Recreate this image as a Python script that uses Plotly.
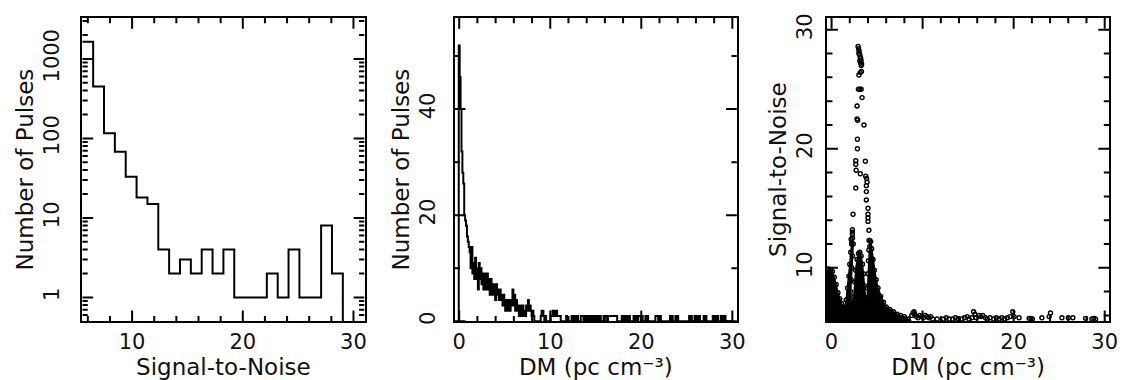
import numpy as np
import plotly.graph_objects as go

# ---------------- data ----------------
# Panel 1: histogram of Signal-to-Noise (bins from threshold to max S/N)
snr_lo = 5.5
snr_hi = 31.0
snr_counts = [1640, 450, 116, 68, 33, 18, 15, 4, 2, 3, 2, 4, 2, 4,
              1, 1, 1, 2, 1, 4, 1, 1, 8, 2, 0, 0]

# Panel 2: number of pulses per DM trial (0.1 pc cm^-3 steps)
dm_step = 0.1
dm_max = 30.0
dm_range = [-0.5, 30.5]
# DM 0.0 ... 8.3
dm_counts_low = [52, 46, 40, 32, 28, 26, 20, 19, 18, 16,
                 15, 14, 13, 10, 14, 9, 11, 8, 12, 8,
                 10, 6, 11, 8, 10, 7, 9, 6, 9, 7,
                 6, 9, 6, 8, 5, 8, 5, 7, 5, 7,
                 4, 7, 5, 6, 4, 6, 4, 5, 3, 5,
                 3, 2, 4, 2, 3, 4, 2, 3, 4, 6,
                 3, 5, 2, 4, 2, 3, 1, 3, 1, 2,
                 3, 1, 2, 1, 3, 2, 4, 2, 3, 2,
                 1, 2, 1, 0]
# sparse trials above DM 8.3
dm_sparse_dm = [9.0, 9.1, 9.2, 9.3, 9.5, 10.1, 10.2, 10.3, 10.4, 10.5, 10.6, 10.7,
                10.8, 10.9, 11.0, 11.1, 11.8, 12.4, 12.5, 12.7, 12.8, 13.0, 13.4,
                13.5, 13.6, 13.8, 13.9, 14.1, 14.4, 14.5, 14.7, 14.8, 15.0, 15.1,
                15.3, 15.5, 15.9, 16.0, 16.1, 16.2, 16.4, 16.5, 16.6, 16.7, 16.8,
                16.9, 17.0, 17.1, 17.2, 17.3, 17.9, 18.0, 18.1, 18.3, 18.6, 18.7,
                19.2, 19.3, 19.5, 19.7, 19.8, 19.9, 20.1, 20.5, 20.7, 21.6, 21.7,
                21.8, 22.0, 22.1, 23.2, 23.4, 23.8, 24.0, 25.3, 25.5, 25.9, 26.1,
                26.4, 26.9, 27.1, 27.9, 28.0, 28.2, 28.4, 28.8, 28.9, 29.1, 29.2]
dm_sparse_n = [1, 2, 2, 1, 1, 1, 1, 2, 2, 1, 1, 2,
               1, 1, 1, 1, 1, 1, 1, 1, 1, 1, 1,
               1, 1, 1, 1, 1, 1, 1, 1, 1, 1, 1,
               1, 1, 1, 1, 1, 1, 1, 1, 1, 1, 1,
               1, 1, 1, 1, 1, 1, 1, 1, 1, 1, 1,
               1, 1, 1, 1, 1, 1, 1, 1, 1, 1, 1,
               1, 1, 1, 1, 1, 1, 1, 1, 1, 1, 1,
               1, 1, 1, 1, 1, 1, 1, 1, 1, 1, 1]

# Panel 3: S/N vs DM of individual pulses
peak_dm = [2.91, 2.97, 3.03, 3.0, 3.1, 3.15, 3.2, 3.1, 3.25, 3.2, 3.3, 3.25,
           3.0, 3.15, 3.28, 2.95, 3.1, 3.25, 3.35, 2.8, 2.8, 2.86, 3.56,
           2.84, 2.84, 2.66, 2.66, 2.7, 3.71, 3.16, 3.75, 3.85, 3.9, 2.66,
           3.82, 3.82, 3.82, 4.0, 4.0, 4.0, 4.0, 2.36, 2.29, 2.29, 2.29, 4.1,
           2.15, 2.2, 4.12, 4.2]
peak_snr = [28.6, 28.4, 28.2, 28.0, 27.9, 27.7, 27.6, 27.4, 27.4, 27.2, 27.1, 27.0,
            26.2, 26.4, 26.5, 25.0, 25.0, 25.0, 24.3, 23.6, 22.5, 22.4, 22.0,
            20.8, 20.0, 19.0, 18.7, 18.2, 18.95, 17.9, 17.7, 17.5, 17.2, 16.7,
            16.9, 16.4, 15.7, 15.0, 14.5, 14.2, 13.9, 14.5, 13.2, 13.0, 12.8, 13.15,
            12.4, 12.0, 12.3, 11.8]
# outline of the densely populated region near the detection threshold
env_dm = [-0.5, -0.5, -0.35, -0.1, 0.1, 0.3, 0.5, 0.7, 0.9, 1.1, 1.3, 1.45,
          1.6, 1.75, 1.9, 2.0, 2.1, 2.2, 2.3, 2.38, 2.3, 2.22, 2.15, 2.1, 2.15, 2.3,
          2.45, 2.55, 2.65, 2.8, 2.95, 3.1, 3.25, 3.4, 3.5, 3.6, 3.7, 3.8,
          3.9, 3.95, 4.0, 4.05, 4.1, 4.2, 4.3, 4.4, 4.55, 4.7, 4.9, 5.1, 5.4,
          5.7, 6.0, 6.4, 6.8, 7.2, 7.6, 8.0, 8.4, 8.5]
env_snr = [5.5, 9.6, 9.9, 9.85, 9.7, 9.2, 8.6, 7.9, 7.4, 7.0, 6.7, 6.6,
           7.3, 8.3, 9.3, 10.3, 11.3, 12.1, 12.5, 12.0, 11.0, 10.0, 9.0, 8.0, 7.2, 6.9,
           7.6, 8.8, 9.8, 10.7, 11.2, 11.3, 11.0, 10.3, 9.5, 8.5, 7.5, 6.9,
           7.3, 8.3, 9.5, 10.6, 11.5, 12.3, 12.2, 11.6, 10.7, 9.8, 9.0, 8.3, 7.6,
           7.1, 6.7, 6.5, 6.3, 6.1, 6.0, 5.9, 5.7, 5.5]
# sparse weak pulses at higher DMs
tail_dm = [8.8, 8.95, 9.05, 9.15, 9.3, 9.5, 9.7, 9.9, 10.1, 10.3, 10.5, 10.7, 10.9,
           11.1, 11.6, 12.3, 12.6, 12.9, 13.3, 13.6, 13.9, 14.3, 14.6, 14.9, 15.1,
           15.4, 15.6, 15.75, 15.9, 16.2, 16.4, 16.6, 16.9, 17.1, 17.4, 17.8, 18.1,
           18.4, 18.7, 19.0, 19.3, 19.6, 19.9, 20.05, 20.6, 21.7, 21.9, 22.05, 23.1,
           23.9, 24.05, 25.3, 26.0, 26.5, 27.9, 28.6, 28.8, 29.0]
tail_snr = [6.0, 6.2, 6.3, 6.1, 5.9, 5.8, 6.0, 5.9, 5.8, 6.0, 5.9, 5.8, 5.9,
            5.7, 5.7, 5.7, 5.8, 5.7, 5.7, 5.8, 5.7, 5.7, 5.8, 5.9, 5.7,
            5.8, 6.3, 6.1, 5.8, 6.0, 5.9, 6.0, 5.8, 5.7, 5.8, 5.7, 5.8,
            5.7, 5.8, 5.7, 5.8, 5.9, 6.3, 5.9, 5.8, 5.75, 5.75, 5.7, 5.8,
            5.9, 6.2, 5.8, 5.8, 5.8, 5.75, 5.7, 5.75, 5.7]

# ---------------- tick values (major / minor) ----------------
snr_major = [10, 20, 30]
snr_minor = [6, 8, 12, 14, 16, 18, 22, 24, 26, 28]
dm_major = [0, 10, 20, 30]
dm_minor = [2, 4, 6, 8, 12, 14, 16, 18, 22, 24, 26, 28]
log_major = [1, 10, 100, 1000]
log_minor = [0.6, 0.7, 0.8, 0.9, 2, 3, 4, 5, 6, 7, 8, 9,
             20, 30, 40, 50, 60, 70, 80, 90, 200, 300, 400, 500, 600, 700,
             800, 900, 2000, 3000]
npulse_major = [0, 20, 40]
npulse_minor = [10, 30, 50]

# ---------------- derived step curves ----------------
snr_counts = np.array(snr_counts, dtype=float)
nb = len(snr_counts)
snr_edges = np.linspace(snr_lo, snr_hi, nb + 1)
y_floor = 0.05  # below the log-axis range, used for empty bins
snr_plot = np.where(snr_counts > 0, snr_counts, y_floor)
sx = np.repeat(snr_edges, 2)[1:-1]
sy = np.repeat(snr_plot, 2)

ndm = int(round(dm_max / dm_step)) + 1
dm_centers = np.arange(ndm) * dm_step
dm_counts = np.zeros(ndm)
dm_counts[:len(dm_counts_low)] = dm_counts_low
for d, n in zip(dm_sparse_dm, dm_sparse_n):
    dm_counts[int(round(d / dm_step))] = n
dm_edges = np.concatenate([dm_centers - dm_step / 2, [dm_centers[-1] + dm_step / 2]])
hx = np.repeat(dm_edges, 2)
hy = np.concatenate([[0], np.repeat(dm_counts, 2), [0]])

# ---------------- figure ----------------
W, H = 1136, 380
ydom = [64 / H, 374 / H]
xdoms = [[73 / W, 358 / W], [449 / W, 734 / W], [825 / W, 1110 / W]]
PW, PH = 285.0, 310.0          # plot-area size in px
TL, TLm = 11.0, 5.5            # major / minor tick length in px

fig = go.Figure()
fig.add_trace(go.Scatter(x=sx, y=sy, mode="lines", xaxis="x", yaxis="y",
                         line=dict(color="black", width=2), hoverinfo="skip"))
fig.add_trace(go.Scatter(x=hx, y=hy, mode="lines", xaxis="x2", yaxis="y2",
                         line=dict(color="black", width=2), hoverinfo="skip"))
fig.add_trace(go.Scatter(x=env_dm, y=env_snr, mode="lines", fill="toself",
                         fillcolor="black", xaxis="x3", yaxis="y3",
                         line=dict(color="black", width=1.5), hoverinfo="skip"))
mk = dict(symbol="circle-open", size=4, color="black", line=dict(width=1.4, color="black"))
fig.add_trace(go.Scatter(x=env_dm, y=env_snr, mode="markers", xaxis="x3", yaxis="y3",
                         marker=mk, hoverinfo="skip"))
fig.add_trace(go.Scatter(x=peak_dm, y=peak_snr, mode="markers", xaxis="x3", yaxis="y3",
                         marker=mk))
fig.add_trace(go.Scatter(x=tail_dm, y=tail_snr, mode="markers", xaxis="x3", yaxis="y3",
                         marker=mk))


def tick_segments(xr, yr, ylog, xmaj, xmin, ymaj, ymin):
    """Inward tick marks on all four sides of a frame, in data coordinates."""
    def yval(f):  # fraction of plot height -> data y
        v = yr[0] + f * (yr[1] - yr[0])
        return float(10 ** v) if ylog else float(v)

    def xval(f):
        return float(xr[0] + f * (xr[1] - xr[0]))

    xs, ys = [], []
    for vals, ln in ((xmaj, TL), (xmin, TLm)):
        f = ln / PH
        for v in vals:
            xs += [v, v, None, v, v, None]
            ys += [yval(0), yval(f), None, yval(1), yval(1 - f), None]
    for vals, ln in ((ymaj, TL), (ymin, TLm)):
        f = ln / PW
        for v in vals:
            xs += [xval(0), xval(f), None, xval(1), xval(1 - f), None]
            ys += [v, v, None, v, v, None]
    return xs, ys


FONT = "DejaVu Sans"
tickfont = dict(family=FONT, size=21, color="#111111")
titlefont = dict(family=FONT, size=23, color="#111111")

panels = [
    dict(xr=[snr_lo, snr_hi], yr=[np.log10(0.5), np.log10(2 * snr_counts.max())], ylog=True,
         xmaj=snr_major, xmin=snr_minor, ymaj=log_major, ymin=log_minor,
         xtitle="Signal-to-Noise", ytitle="Number of Pulses", ystand=0, ylabstand=13),
    dict(xr=dm_range, yr=[0, 1.1 * dm_counts.max()], ylog=False,
         xmaj=dm_major, xmin=dm_minor, ymaj=npulse_major, ymin=npulse_minor,
         xtitle="DM (pc cm⁻³)", ytitle="Number of Pulses", ystand=0, ylabstand=9),
    dict(xr=dm_range, yr=[snr_lo, snr_hi], ylog=False,
         xmaj=dm_major, xmin=dm_minor, ymaj=snr_major, ymin=snr_minor,
         xtitle="DM (pc cm⁻³)", ytitle="Signal-to-Noise", ystand=0, ylabstand=5),
]

layout = dict(width=W, height=H, margin=dict(l=0, r=0, t=0, b=0),
              paper_bgcolor="white", plot_bgcolor="white", showlegend=False)
for i, p in enumerate(panels):
    n = "" if i == 0 else str(i + 1)
    xid, yid = "x" + n, "y" + n
    common = dict(showline=True, linecolor="black", linewidth=2, mirror=True,
                  ticks="", showgrid=False, zeroline=False, tickfont=tickfont,
                  fixedrange=True)
    layout["xaxis" + n] = dict(common, domain=xdoms[i], anchor=yid, range=p["xr"],
                               tickmode="array", tickvals=p["xmaj"],
                               title=dict(text=p["xtitle"], font=titlefont, standoff=2))
    layout["yaxis" + n] = dict(common, domain=ydom, anchor=xid, range=p["yr"],
                               type="log" if p["ylog"] else "linear",
                               tickmode="array", tickvals=p["ymaj"],
                               ticktext=[str(v) for v in p["ymaj"]],
                               tickangle=-90, ticklabelstandoff=p["ylabstand"],
                               title=dict(text=p["ytitle"], font=titlefont,
                                          standoff=p["ystand"]))
    tx, ty = tick_segments(p["xr"], p["yr"], p["ylog"], p["xmaj"], p["xmin"],
                           p["ymaj"], p["ymin"])
    fig.add_trace(go.Scatter(x=tx, y=ty, mode="lines", xaxis=xid, yaxis=yid,
                             line=dict(color="black", width=2),
                             hoverinfo="skip", connectgaps=False))

fig.update_layout(**layout)
fig.write_html("out.html")
